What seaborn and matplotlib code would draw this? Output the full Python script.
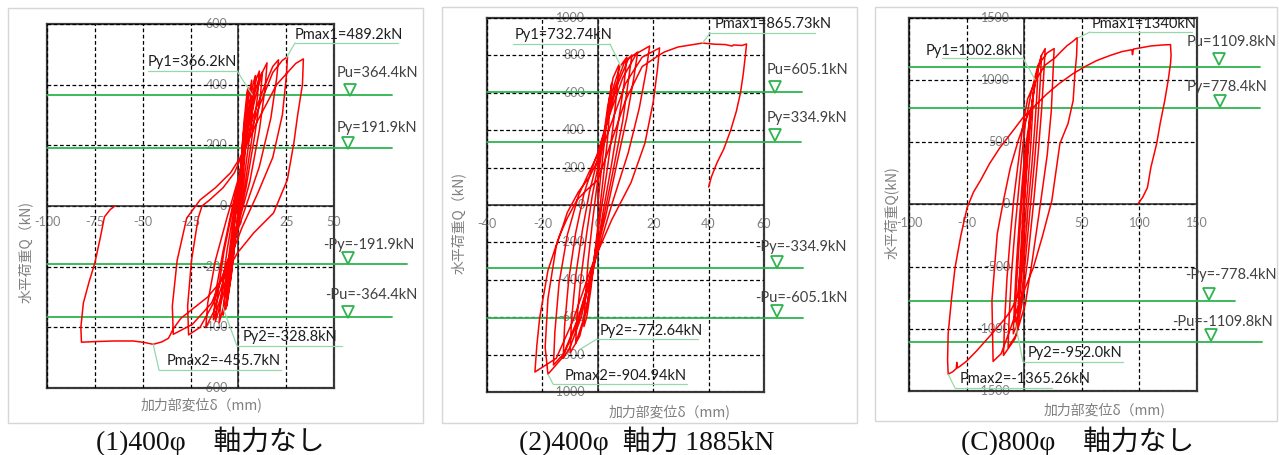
import matplotlib
matplotlib.use("Agg")
import matplotlib.pyplot as plt
import matplotlib.transforms as mtrans
from matplotlib.lines import Line2D
from matplotlib.patches import Rectangle
import pandas as pd
import seaborn as sns

# ---------------- data ----------------
# panel 1 : 400phi, no axial load   (displacement mm, load kN)
p1_loop = [
    (0, 0), (1.5, 150), (3, 280), (4.5, 370), (5, 390), (4, 300), (2.5, 150), (0.5, 20), (-1.5, -100), (-3.5, -220), (-5.5, -310), (-6, -330), (-5, -250), (-3, -120), (-1, -10), (1, 110),
    (2.5, 230), (4.5, 340), (5.5, 385), (4.6, 300), (3, 160), (1, 30), (-1.5, -110), (-4, -240), (-6.5, -340), (-5.5, -260), (-3.5, -130), (-1, 0), (1, 110),
    (3, 250), (5, 350), (6.5, 400), (7, 415), (6, 330), (4, 200), (1.5, 40), (-1, -80), (-4, -230), (-7, -340), (-8, -360), (-7, -280), (-4.5, -140), (-2, -20), (1, 110),
    (3.5, 230), (6, 340), (8, 410), (9, 430), (8, 350), (5.5, 210), (2, 40), (-1.5, -90), (-5, -240), (-8.5, -350), (-10, -385), (-9, -300), (-6, -150), (-2.5, -20), (1, 110),
    (4, 240), (7, 350), (9.5, 420), (11, 445), (10, 360), (7, 220), (3, 50), (-2, -100), (-6, -250), (-10.5, -350), (-12, -380), (-11, -300), (-7.5, -150), (-3, -10), (1.5, 120),
    (4.5, 240), (8, 360), (11, 425), (12.6, 442), (11.5, 360), (8.5, 230), (4, 60), (-1, -80), (-6, -230), (-11, -340), (-13, -375), (-12, -290), (-8, -150), (-3, 0), (2, 130),
    (5, 250), (9, 360), (12.5, 440), (15, 472), (14, 390), (11, 250), (6, 80), (0, -60), (-7, -230), (-13, -350), (-17, -400), (-16, -320), (-12, -180), (-6, -40), (0, 90), (4, 200),
    (8, 300), (14, 400), (18, 460), (21, 482), (20, 420), (17, 290), (11, 130), (4, 0), (-4, -150), (-13, -320), (-20, -400), (-26, -425), (-26.5, -330), (-24.5, -180), (-21, -40), (-19, 0), (-15, 20), (-8, 60), (-2, 110), (4, 200), (11, 330),
    (18, 440), (23, 480), (25.7, 492), (25, 420), (23, 300), (18, 160), (10, 40), (2, -70), (-6, -200), (-14, -320), (-24, -390), (-34, -423), (-34.5, -330), (-32, -180), (-27, -40), (-20, 20), (-12, 60), (-4, 110), (2, 170), (10, 280), (20, 400), (30, 470), (34, 485),
    (33.5, 400), (31, 300), (29, 207), (25.6, 86), (18.4, -23), (8, -89), (-0.5, -155), (-8, -240), (-16, -300), (-24, -340), (-30, -370), (-34, -405), (-36.5, -436), (-40, -448), (-44.5, -456), (-49, -450), (-55, -445), (-65, -445), (-75, -447), (-82, -449), (-82.3, -400), (-81, -320), (-78, -250), (-75, -188), (-72, -100), (-70, -36), (-67, -12), (-64.5, 0),
]
p1_xticks = [-100, -75, -50, -25, 0, 25, 50]
p1_yticks = [600, 400, 200, 0, -200, -400, -600]
p1_ann_names = ["Pmax1", "Py1", "Py2", "Pmax2"]
p1_ann_vals = ["489.2", "366.2", "-328.8", "-455.7"]
p1_ann_disp = [25.2, 7.3, -8.4, -44.5]
p1_lvl_names = ["Pu", "Py", "-Py", "-Pu"]
p1_lvl_vals = ["364.4", "191.9", "-191.9", "-364.4"]
p1_caption = "(1)400\u03c6\u3000軸力なし"

# panel 2 : 400phi, axial load 1885kN
p2_loop = [
    (0, 0), (1, 150), (2.5, 350), (4, 550), (5, 650), (4.5, 550), (3.5, 350), (2, 150), (0.5, -50), (-1, -250), (-2.5, -450), (-4, -600), (-5, -650), (-4.5, -500), (-3.5, -300), (-2, -100), (-0.5, 80),
    (1.5, 300), (3.5, 520), (5.5, 680), (7.6, 749), (7, 620), (5.5, 420), (3.5, 200), (1, -50), (-1.5, -300), (-4, -550), (-6.5, -700), (-8, -740), (-7.5, -600), (-6, -380), (-4, -150), (-2, 50), (0, 200),
    (2.5, 400), (5, 600), (8, 740), (10.5, 791), (9.5, 650), (7.5, 450), (5, 220), (2, -30), (-1, -300), (-4.5, -580), (-8, -740), (-10, -790), (-9.5, -620), (-8, -380), (-5.5, -130), (-3, 70), (-0.5, 220),
    (3, 420), (6, 620), (9.5, 760), (12.3, 802), (11, 660), (9, 450), (6, 220), (2.5, -40), (-1.5, -320), (-6, -600), (-10, -760), (-12.5, -820), (-12, -650), (-10.5, -400), (-8, -150), (-5, 60), (-2, 200), (0, 280),
    (3, 430), (7, 640), (11, 780), (14.4, 818), (13, 680), (10.5, 470), (7, 230), (3, -50), (-2, -340), (-7, -620), (-12, -790), (-16, -856), (-15.5, -680), (-14, -420), (-11, -160), (-7, 50), (-3, 180), (0, 270),
    (4, 470), (9, 680), (14, 810), (18.7, 850), (17.5, 720), (15, 520), (11, 280), (5, 0), (-1, -300), (-7, -600), (-13, -820), (-18, -905), (-19, -760), (-18, -500), (-15, -220), (-11, -40), (-7, 70), (-3, 150), (0, 240), (4, 400),
    (10, 650), (16, 790), (22.3, 840), (21.5, 720), (20, 550), (17, 330), (12, 120), (5, -80), (-2, -320), (-9, -620), (-15, -820), (-22.7, -893), (-22, -750), (-21, -605), (-18, -350), (-14, -170), (-11, -70), (-7.5, 27), (-4, 80), (0, 134), (4, 300), (10, 560), (16, 740), (22, 800),
    (24, 818), (29, 845), (34, 857), (37.8, 866), (42, 860), (46, 858), (48.5, 850), (49, 856), (52, 853), (53.7, 861), (53.3, 802), (52.5, 700), (51.5, 599), (50, 500), (48, 401), (45.5, 300), (43, 225), (41, 150), (40, 96),
]
p2_xticks = [-40, -20, 0, 20, 40, 60]
p2_yticks = [1000, 800, 600, 400, 200, 0, -200, -400, -600, -800, -1000]
p2_ann_names = ["Pmax1", "Py1", "Py2", "Pmax2"]
p2_ann_vals = ["865.73", "732.74", "-772.64", "-904.94"]
p2_ann_disp = [37.8, 8.6, -6.5, -18.0]
p2_lvl_names = ["Pu", "Py", "-Py", "-Pu"]
p2_lvl_vals = ["605.1", "334.9", "-334.9", "-605.1"]
p2_caption = "(2)400\u03c6  軸力 1885kN"

# panel 3 : 800phi, no axial load
p3_loop = [
    (0, 0), (2, 250), (4, 500), (6, 750), (8, 900), (7, 700), (5.5, 450), (3.5, 200), (1, -100), (-1.5, -400), (-3.5, -650), (-5, -800), (-4, -550), (-2.5, -300), (-1, -50), (0.5, 150),
    (3, 450), (6, 750), (9, 980), (12, 1100), (11, 880), (9, 600), (6.5, 300), (3.5, 0), (0.5, -350), (-3, -650), (-6, -900), (-8, -950), (-7, -700), (-5, -400), (-3, -100), (-1, 150), (1, 350),
    (4, 600), (8, 900), (12, 1100), (15, 1200), (14, 1000), (12, 700), (9, 350), (5, -50), (1, -450), (-3, -780), (-7, -980), (-9.5, -1040), (-8.5, -800), (-6.5, -450), (-4, -100), (-1.5, 200), (1, 450),
    (5, 700), (10, 1000), (15, 1200), (18.2, 1254), (17, 1050), (15, 750), (12, 400), (8, 0), (3, -450), (-2, -800), (-7, -1050), (-14, -1149), (-13, -900), (-11, -550), (-8, -200), (-5, 100), (-2, 400), (1, 650),
    (6, 900), (12, 1120), (20, 1220), (26, 1254), (25, 1050), (23.5, 750), (20, 400), (14, 0), (7, -450), (1, -800), (-8, -1080), (-18, -1214), (-17, -950), (-15, -600), (-12, -250), (-9, 50), (-5, 350), (-1, 650), (3, 850),
    (10, 1000), (18, 1120), (27, 1182), (32, 1230), (37.3, 1278), (42, 1310), (46, 1342), (45.5, 1200), (44, 1050), (42.5, 836), (38, 650), (31, 490), (24, 32), (16, -250), (8, -506), (-3.5, -772), (-12, -1000), (-20, -1200), (-27, -1262),
    (-28, -772), (-23.4, -236), (-18, 32), (-12, 298), (-5, 520), (0, 650), (5, 760), (4, 600), (2, 300), (0, 0), (-3, -500), (-6, -747), (-12, -860), (-18, -932), (-30, -1060), (-41, -1174), (-50, -1260), (-55.6, -1300), (-58, -1315), (-58.5, -1270), (-59, -1320), (-62, -1345), (-66, -1365),
    (-66.5, -1250), (-66, -1037), (-63, -750), (-60, -506), (-55, -250), (-49.5, -24), (-44, 100), (-38, 193), (-30, 330), (-21, 458), (-10, 590), (-1, 700), (10, 800), (20, 892), (30, 970), (42.5, 1053), (53, 1110), (63, 1158), (75, 1200), (85, 1230), (93.5, 1245), (94, 1205), (94.8, 1250), (110, 1275), (120, 1283), (127, 1286),
    (127.5, 1200), (127, 1133), (125, 1000), (122, 836), (118, 650), (115, 490), (110, 300), (107, 137), (103, 60), (99, 8),
]
p3_xticks = [-100, -50, 0, 50, 100, 150]
p3_yticks = [1500, 1000, 500, 0, -500, -1000, -1500]
p3_ann_names = ["Pmax1", "Py1", "Py2", "Pmax2"]
p3_ann_vals = ["1340", "1002.8", "-952.0", "-1365.26"]
p3_ann_disp = [46.9, 9.5, -7.8, -66.0]
p3_lvl_names = ["Pu", "Py", "-Py", "-Pu"]
p3_lvl_vals = ["1109.8", "778.4", "-778.4", "-1109.8"]
p3_caption = "(C)800\u03c6\u3000軸力なし"

xlabel = "加力部変位δ（mm)"
ylabels = ["水平荷重Q（kN)", "水平荷重Q（kN)", "水平荷重Q(kN)"]

# ---------------- layout (pixels) ----------------
W, H = 1279, 455
layouts = [
    dict(ax=(47, 24, 334, 388), frame=(8, 8, 423, 423), xlim=(-100, 50), ylim=(-600, 600),
         ypad=11, xpad=16, ylab=(25, 252), xlab=(202, 405), cap=(210, 441),
         ann_text=[(295, 35), (148, 62), (243, 337), (167, 361)],
         ann_ul=[(295, 398, 43), (148, 237, 71), (237, 342, 346), (159, 281, 370)],
         ann_anchor=[(295, 43), (237, 71), (237, 346), (159, 370)],
         lvl_text=[(337, 73), (337, 128), (323, 245), (325, 295)],
         lvl_tri=[(350, 90), (348, 143), (348, 258), (348, 312)],
         lvl_end=[392, 392, 407, 392]),
    dict(ax=(487, 18, 764, 392), frame=(442, 7, 857, 423), xlim=(-40, 60), ylim=(-1000, 1000),
         ypad=13, xpad=19, ylab=(458, 223), xlab=(670, 412), cap=(647, 441),
         ann_text=[(715, 24), (515, 35), (600, 331), (565, 376)],
         ann_ul=[(710, 815, 33), (513, 610, 44), (597, 698, 339), (553, 687, 384)],
         ann_anchor=[(710, 33), (610, 44), (597, 339), (553, 384)],
         lvl_text=[(767, 70), (767, 118), (755, 247), (755, 298)],
         lvl_tri=[(775, 87), (775, 135), (777, 262), (777, 311)],
         lvl_end=[802, 801, 803, 803]),
    dict(ax=(909, 18, 1197, 391), frame=(875, 7, 1277, 421), xlim=(-100, 150), ylim=(-1500, 1500),
         ypad=14, xpad=19, ylab=(891, 213), xlab=(1105, 410), cap=(1078, 441),
         ann_text=[(1092, 24), (926, 51), (1028, 353), (960, 379)],
         ann_ul=[(1090, 1192, 32), (942, 1023, 58), (1023, 1123, 362), (955, 1052, 388)],
         ann_anchor=[(1090, 32), (1023, 58), (1023, 362), (955, 388)],
         lvl_text=[(1187, 42), (1187, 87), (1185, 275), (1172, 322)],
         lvl_tri=[(1219, 59), (1220, 101), (1209, 294), (1211, 335)],
         lvl_end=[1260, 1260, 1235, 1262]),
]

panels = [
    (p1_loop, p1_xticks, p1_yticks, p1_ann_names, p1_ann_vals, p1_ann_disp, p1_lvl_names, p1_lvl_vals, p1_caption),
    (p2_loop, p2_xticks, p2_yticks, p2_ann_names, p2_ann_vals, p2_ann_disp, p2_lvl_names, p2_lvl_vals, p2_caption),
    (p3_loop, p3_xticks, p3_yticks, p3_ann_names, p3_ann_vals, p3_ann_disp, p3_lvl_names, p3_lvl_vals, p3_caption),
]

sns.set_theme(style="white")
plt.rcParams["font.family"] = ["Lato", "Noto Sans CJK JP", "DejaVu Sans"]

RED = "#ff0000"
GREEN = "#2eb34f"
LGREEN = "#95d9a8"
GRAY = "#808080"

fig = plt.figure(figsize=(W / 100, H / 100), dpi=100)
fig.patch.set_facecolor("white")


def fx(x):
    return x / W


def fy(y):
    return 1 - y / H


for i, (lay, (loop, xt, yt, an_names, an_vals, an_disp, lv_names, lv_vals, cap)) in enumerate(zip(layouts, panels)):
    # light gray frame of each panel
    l, t, r, b = lay["frame"]
    fig.add_artist(Rectangle((fx(l), fy(b)), (r - l) / W, (b - t) / H, transform=fig.transFigure,
                             fill=False, edgecolor="#d6d6d6", lw=1.0))
    l, t, r, b = lay["ax"]
    ax = fig.add_axes([fx(l), fy(b), (r - l) / W, (b - t) / H])
    ax.set_facecolor("white")
    df = pd.DataFrame(loop, columns=["disp", "load"])
    sns.lineplot(data=df, x="disp", y="load", sort=False, estimator=None, color=RED, lw=1.1, ax=ax, zorder=3)
    ax.set_xlim(*lay["xlim"])
    ax.set_ylim(*lay["ylim"])
    ax.set_xticks(xt)
    ax.set_yticks(yt)
    ax.set_xlabel("")
    ax.set_ylabel("")
    ax.tick_params(length=0, labelleft=False, labelbottom=False)
    ax.set_axisbelow(False)
    ax.grid(True, color="black", ls=(0, (3, 2)), lw=0.9)
    ax.axhline(0, color="#222222", lw=1.1, zorder=2.6)
    ax.axvline(0, color="#222222", lw=1.1, zorder=2.6)
    for s in ax.spines.values():
        s.set_color("#3a3a3a")
        s.set_linewidth(1.6)

    # tick labels at the zero axes, under the grid lines
    ty = mtrans.offset_copy(ax.transData, fig=fig, x=-lay["ypad"], y=0, units="dots")
    for v in yt:
        ax.text(0, v, f"{v}", transform=ty, ha="right", va="center", fontsize=9, color=GRAY, zorder=1)
    tx = mtrans.offset_copy(ax.transData, fig=fig, x=0, y=-lay["xpad"], units="dots")
    for v in xt:
        ax.text(v, 0, f"{v}", transform=tx, ha="center", va="center", fontsize=9, color=GRAY, zorder=1)

    # level lines (Pu, Py, -Py, -Pu)
    for name, val, (tx0, ty0), (trx, try_), xend in zip(lv_names, lv_vals, lay["lvl_text"], lay["lvl_tri"], lay["lvl_end"]):
        ax.axhline(float(val), xmin=0, xmax=(xend - l) / (r - l), color=GREEN, lw=1.3, clip_on=False, zorder=2.8)
        fig.text(fx(tx0), fy(ty0), f"{name}={val}kN", ha="left", va="center", fontsize=10.5, color="#404040")
        fig.add_artist(Line2D([fx(trx)], [fy(try_)], transform=fig.transFigure, marker="v", ms=8,
                              mfc="white", mec=GREEN, mew=1.3, ls="none"))

    # peak / yield annotations
    for name, val, d, (tx0, ty0), (u0, u1, uy), (axp, ayp) in zip(an_names, an_vals, an_disp, lay["ann_text"],
                                                               lay["ann_ul"], lay["ann_anchor"]):
        fig.text(fx(tx0), fy(ty0), f"{name}={val}kN", ha="left", va="center", fontsize=10.5, color="#1e1e1e")
        fig.add_artist(Line2D([fx(u0), fx(u1)], [fy(uy), fy(uy)], transform=fig.transFigure, color=LGREEN, lw=0.9))
        ax.annotate("", xy=(d, float(val)), xycoords="data", xytext=(axp, H - ayp), textcoords="figure pixels",
                    arrowprops=dict(arrowstyle="-", color=LGREEN, lw=0.9, shrinkA=0, shrinkB=0), zorder=4)

    # axis titles and caption
    fig.text(fx(lay["xlab"][0]), fy(lay["xlab"][1]), xlabel, ha="center", va="center", fontsize=10,
             color="#7f7f7f", family=["Noto Sans CJK JP", "DejaVu Sans"])
    fig.text(fx(lay["ylab"][0]), fy(lay["ylab"][1]), ylabels[i], ha="center", va="center",
             rotation=90, fontsize=10, color="#7f7f7f", family=["Noto Sans CJK JP", "DejaVu Sans"])
    fig.text(fx(lay["cap"][0]), fy(lay["cap"][1]), cap, ha="center", va="center", fontsize=20,
             color="#111111", family=["Liberation Serif", "Noto Sans CJK JP", "DejaVu Sans"])

fig.savefig("out.png", dpi=100, facecolor="white")
